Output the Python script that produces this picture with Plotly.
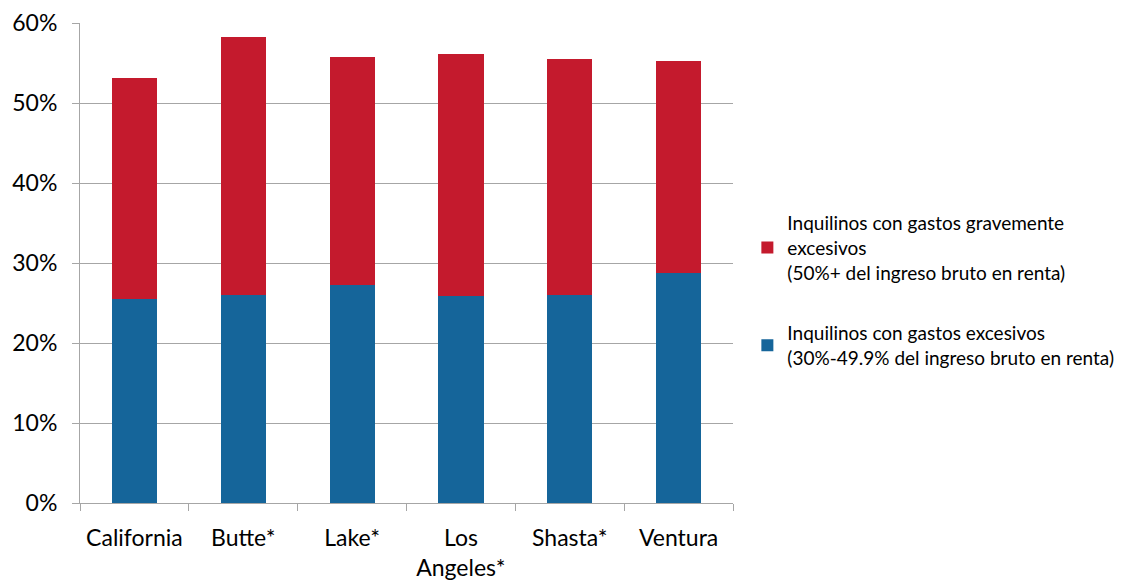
import plotly.graph_objects as go

categories = ["California", "Butte*", "Lake*", "Los<br>Angeles*", "Shasta*", "Ventura"]
excesivos = [0.255, 0.260, 0.2725, 0.259, 0.260, 0.2875]
gravemente = [0.276, 0.3225, 0.285, 0.302, 0.295, 0.265]

name_grave = "Inquilinos con gastos gravemente<br>excesivos<br>(50%+ del ingreso bruto en renta)"
name_exc = "Inquilinos con gastos excesivos<br>(30%-49.9% del ingreso bruto en renta)"

font = "Lato, Open Sans, Liberation Sans, sans-serif"

fig = go.Figure()
fig.add_trace(go.Bar(x=categories, y=excesivos, name=name_exc, legendgroup="exc",
                     legendrank=2,
                     marker=dict(color="#15659A", line=dict(width=0))))
fig.add_trace(go.Bar(x=categories, y=gravemente, name=name_grave, legendgroup="grave",
                     legendrank=1,
                     marker=dict(color="#C41A2D", line=dict(width=0))))

fig.update_layout(
    barmode="stack",
    bargap=0.585,
    width=1129, height=580,
    margin=dict(l=72, r=404, t=15, b=85, autoexpand=False),
    plot_bgcolor="white", paper_bgcolor="white",
    font=dict(family=font, size=23, color="#000000"),
    legend=dict(x=1.022, y=0.443, xanchor="left", yanchor="middle",
                traceorder="grouped", font=dict(size=19),
                tracegroupgap=33, bgcolor="rgba(0,0,0,0)"),
    showlegend=True,
)
fig.update_yaxes(range=[0, 0.6], dtick=0.1, tickformat=".0%", automargin=False,
                 showgrid=True, gridcolor="#A6A6A6", gridwidth=1,
                 showline=True, linecolor="#A6A6A6", linewidth=1,
                 ticks="outside", ticklen=7, tickcolor="#A6A6A6",
                 ticklabelstandoff=10,
                 zeroline=False, tickfont=dict(size=23))
fig.update_xaxes(showline=True, linecolor="#A6A6A6", linewidth=1, automargin=False,
                 ticks="outside", tickson="boundaries", ticklen=7,
                 tickcolor="#A6A6A6", ticklabelstandoff=14, tickangle=0,
                 tickfont=dict(size=23))

fig.write_html("out.html")
